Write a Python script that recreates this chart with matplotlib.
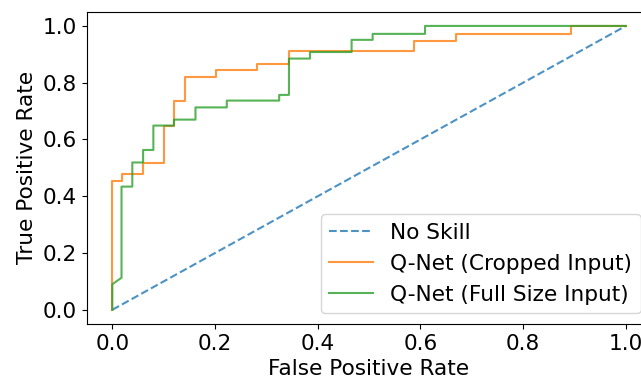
import matplotlib
matplotlib.use("Agg")
import matplotlib.pyplot as plt

ns_fpr = [0, 1]
ns_tpr = [0, 1]

crop_fpr = [0, 0, 0.018, 0.018, 0.060, 0.060, 0.101, 0.101, 0.120, 0.120, 0.142, 0.142,
            0.202, 0.202, 0.282, 0.282, 0.344, 0.344, 0.587, 0.587, 0.669, 0.669, 0.893, 0.893, 1.0]
crop_tpr = [0, 0.455, 0.455, 0.479, 0.479, 0.517, 0.517, 0.649, 0.649, 0.737, 0.737, 0.819,
            0.819, 0.845, 0.845, 0.866, 0.866, 0.911, 0.911, 0.948, 0.948, 0.970, 0.970, 1.0, 1.0]

full_fpr = [0, 0, 0.018, 0.018, 0.039, 0.039, 0.060, 0.060, 0.080, 0.080, 0.120, 0.120, 0.162, 0.162,
            0.223, 0.223, 0.325, 0.325, 0.344, 0.344, 0.385, 0.385, 0.466, 0.466, 0.507, 0.507,
            0.609, 0.609, 1.0]
full_tpr = [0, 0.090, 0.113, 0.434, 0.434, 0.519, 0.519, 0.563, 0.563, 0.649, 0.649, 0.670, 0.670,
            0.713, 0.713, 0.737, 0.737, 0.757, 0.757, 0.885, 0.885, 0.908, 0.908, 0.951, 0.951,
            0.972, 0.972, 1.0, 1.0]

plt.rcParams['font.size'] = 15.6

fig = plt.figure(figsize=(6.41, 3.82), dpi=100)
ax = fig.add_axes([0.1351, 0.1518, 0.8813, 0.8175])  # el borde derecho queda fuera, como el original

ax.plot(ns_fpr, ns_tpr, linestyle='--', color='C0', alpha=0.8, label='No Skill')
ax.plot(crop_fpr, crop_tpr, color='C1', alpha=0.8, label='Q-Net (Cropped Input)')
ax.plot(full_fpr, full_tpr, color='C2', alpha=0.8, label='Q-Net (Full Size Input)')

ax.set_xlabel('False Positive Rate')
ax.set_ylabel('True Positive Rate')
ax.legend(loc='lower right')

fig.savefig('out.png', dpi=100)
